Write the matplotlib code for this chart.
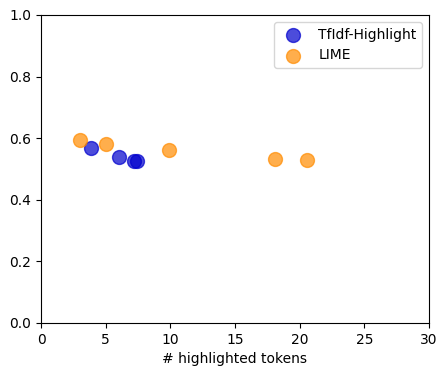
import numpy as np
import matplotlib
matplotlib.use('Agg')
import matplotlib.pyplot as plt

tfidf_x = [3.9, 6.0, 7.2, 7.4]
tfidf_y = [0.568, 0.539, 0.527, 0.527]
lime_x = [3.0, 5.0, 9.9, 18.1, 20.6]
lime_y = [0.594, 0.581, 0.562, 0.532, 0.529]

fig = plt.figure(figsize=(4.47, 3.76), dpi=100)
ax = fig.add_axes([41/447, 1 - 323/376, 388/447, 308/376])

ax.scatter(tfidf_x, tfidf_y, s=100, c='mediumblue', alpha=0.7, label='TfIdf-Highlight')
ax.scatter(lime_x, lime_y, s=100, c='darkorange', alpha=0.7, label='LIME')

ax.set_xlim(0, 30)
ax.set_ylim(0, 1)
ax.set_xlabel('# highlighted tokens')
ax.legend(loc='upper right')

fig.savefig('out.png', dpi=100)
